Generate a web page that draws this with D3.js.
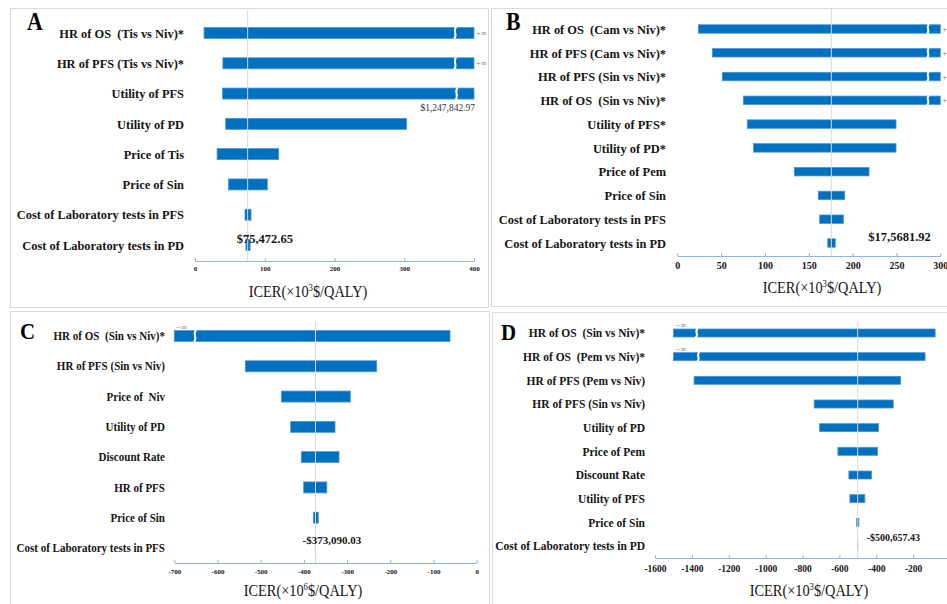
<!DOCTYPE html>
<html>
<head>
<meta charset="utf-8">
<script src="https://cdnjs.cloudflare.com/ajax/libs/d3/7.8.5/d3.min.js"></script>
<style>
    body { margin: 0; background: #fff; }
    svg { display: block; font-family: "Liberation Serif", "Times New Roman", serif; }
</style>
</head>
<body>
<div id="main"></div>
<script>
var ctx = {
    w: 947,
    h: 604,
    labelSx: 0.92, // the source text is a bit narrow
    titleSx: 0.87,
};

// A: Tis vs Niv
var labelsA = ["HR of OS  (Tis vs Niv)*", "HR of PFS (Tis vs Niv)*", "Utility of PFS", "Utility of PD",
    "Price of Tis", "Price of Sin", "Cost of Laboratory tests in PFS", "Cost of Laboratory tests in PD"];
var lowA = [13, 40, 39.6, 44, 31.7, 48, 71.7, 73];
var highA = [400, 400, 400, 303.5, 120, 103.7, 80.3, 79];
var breakA = [373, 373, 375, null, null, null, null, null];
var infA = ["+∞", "+∞", null, null, null, null, null, null];
var baseA = 75.47265;
var ticksA = [0, 100, 200, 300, 400];

// B: Cam / Sin vs Niv
var labelsB = ["HR of OS  (Cam vs Niv)*", "HR of PFS (Cam vs Niv)*", "HR of PFS (Sin vs Niv)*", "HR of OS  (Sin vs Niv)*",
    "Utility of PFS*", "Utility of PD*", "Price of Pem", "Price of Sin",
    "Cost of Laboratory tests in PFS", "Cost of Laboratory tests in PD"];
var lowB = [24, 40, 51.3, 75.3, 79.8, 87, 133.5, 160.8, 162.4, 171.6];
var highB = [300, 300, 300, 300, 249.5, 249.5, 218.7, 191, 189.4, 180.2];
var breakB = [286, 286, 286, 286, null, null, null, null, null, null];
var infB = ["+∞", "+∞", "+∞", "+∞", null, null, null, null, null, null];
var baseB = 175.68192;
var ticksB = [0, 50, 100, 150, 200, 250, 300];

// C: Sin vs Niv (x10^6)
var labelsC = ["HR of OS  (Sin vs Niv)*", "HR of PFS (Sin vs Niv)", "Price of  Niv", "Utility of PD",
    "Discount Rate", "HR of PFS", "Price of Sin", "Cost of Laboratory tests in PFS"];
var lowC = [-700, -535.6, -452.3, -430.6, -406, -400.5, -378.2, -373.6];
var highC = [-61.8, -231.5, -292.6, -328, -318.7, -347, -366.7, -372.8];
var breakC = [-652, null, null, null, null, null, null, null];
var infC = ["−∞", null, null, null, null, null, null, null];
var baseC = -373.09003;
var ticksC = [-700, -600, -500, -400, -300, -200, -100, 0];

// D: Sin / Pem vs Niv
var labelsD = ["HR of OS  (Sin vs Niv)*", "HR of OS  (Pem vs Niv)*", "HR of PFS (Pem vs Niv)", "HR of PFS (Sin vs Niv)",
    "Utility of PD", "Price of Pem", "Discount Rate", "Utility of PFS", "Price of Sin", "Cost of Laboratory tests in PD"];
var lowD = [-1500, -1500, -1388, -736.6, -707, -608, -548.5, -543, -506.8, -500.9];
var highD = [-80.6, -135, -268, -308, -387.5, -393, -425.6, -461.8, -494, -500.4];
var breakD = [-1374, -1365, null, null, null, null, null, null, null, null];
var infD = ["−∞", "−∞", null, null, null, null, null, null, null, null];
var baseD = -500.65743;
var ticksD = [-1600, -1400, -1200, -1000, -800, -600, -400, -200];

var panels = [
    { name: "A", box: [10, 8, 478, 299], letter: [27, 30, 25],
      labels: labelsA, low: lowA, high: highA, brk: breakA, inf: infA,
      base: baseA, baseText: "$75,472.65", baseDx: -11, baseY: 243, baseFs: 12.5,
      note: "$1,247,842.97", noteRow: 2,
      ticks: ticksA, domain: [0, 400], xr: [195, 474], yr: [33, 245], barH: 11,
      axisY: 261, lineTop: 10, labelX: 184, labelFs: 13.5, tickFs: 7, tickPad: 5,
      title: [308, 297], exp: "3" },
    { name: "B", box: [491, 8, 470, 298], letter: [506, 30, 25],
      labels: labelsB, low: lowB, high: highB, brk: breakB, inf: infB,
      base: baseB, baseText: "$17,5681.92", baseDx: 37, baseY: 241, baseFs: 12.5,
      ticks: ticksB, domain: [0, 300], xr: [677.3, 940.3], yr: [29, 243], barH: 8.5,
      axisY: 256, lineTop: 8, labelX: 666, labelFs: 13.5, tickFs: 10, tickPad: 6,
      title: [822, 293], exp: "3" },
    { name: "C", box: [10, 311, 479, 300], letter: [20, 339, 24],
      labels: labelsC, low: lowC, high: highC, brk: breakC, inf: infC,
      base: baseC, baseText: "-$373,090.03", baseDx: -13, baseY: 544, baseFs: 11,
      ticks: ticksC, domain: [-700, 0], xr: [174.3, 476.7], yr: [336, 548], barH: 11,
      axisY: 563, lineTop: 322, labelX: 165, labelFs: 12, tickFs: 7, tickPad: 6,
      title: [303, 596], exp: "6" },
    { name: "D", box: [492, 312, 470, 300], letter: [501, 340, 24],
      labels: labelsD, low: lowD, high: highD, brk: breakD, inf: infD,
      base: baseD, baseText: "-$500,657.43", baseDx: 9, baseY: 541, baseFs: 10,
      ticks: ticksD, domain: [-1600, 0], xr: [655, 950], yr: [333, 546], barH: 8,
      axisY: 558, lineTop: 322, labelX: 645, labelFs: 12.5, tickFs: 9.5, tickPad: 7,
      title: [809, 596], exp: "3" },
];

var squeeze = function (sel, x, y, sx) {
    return sel.attr("transform", `translate(${x},${y}) scale(${sx},1)`);
};

var drawPanel = function (svg, p) {
    var g = svg.append("g").attr("class", "panel-" + p.name);
    var n = p.labels.length;
    var rows = d3.range(n);

    g.append("rect")
        .attr("x", p.box[0] + 0.5)
        .attr("y", p.box[1] + 0.5)
        .attr("width", p.box[2])
        .attr("height", p.box[3])
        .attr("fill", "none")
        .attr("stroke", "#dadada");

    var x = d3.scaleLinear().domain(p.domain).range(p.xr);
    var y = d3.scalePoint().domain(rows).range(p.yr);

    // row labels (keep the double spaces)
    g.selectAll(".lab")
        .data(rows)
        .enter()
        .append("text")
        .attr("class", "lab")
        .each(function (i) { squeeze(d3.select(this), p.labelX, y(i), ctx.labelSx); })
        .attr("dy", "0.35em")
        .attr("text-anchor", "end")
        .attr("font-size", p.labelFs)
        .attr("font-weight", "bold")
        .attr("fill", "#151515")
        .style("white-space", "pre")
        .text((i) => p.labels[i]);

    // bars
    g.selectAll(".bar")
        .data(rows)
        .enter()
        .append("rect")
        .attr("class", "bar")
        .attr("x", (i) => x(Math.min(p.low[i], p.high[i])))
        .attr("y", (i) => y(i) - p.barH / 2)
        .attr("width", (i) => Math.abs(x(p.high[i]) - x(p.low[i])))
        .attr("height", p.barH)
        .attr("fill", "#0070c0")
        .attr("stroke", "#4f94d4")
        .attr("stroke-width", 0.8);

    // axis breaks
    var h = p.barH;
    g.selectAll(".brk")
        .data(rows.filter((i) => p.brk[i] != null))
        .enter()
        .append("path")
        .attr("class", "brk")
        .attr("d", (i) => {
            var bx = x(p.brk[i]), t = y(i) - h / 2;
            return `M${bx + 1},${t - 0.5} C${bx - 3},${t + h * 0.35} ${bx + 3},${t + h * 0.65} ${bx - 1},${t + h + 0.5}`;
        })
        .attr("fill", "none")
        .attr("stroke", "#fff")
        .attr("stroke-width", 2);

    // infinity marks
    g.selectAll(".inf")
        .data(rows.filter((i) => p.inf[i] != null))
        .enter()
        .append("text")
        .attr("class", "inf")
        .attr("x", (i) => p.inf[i][0] == "+" ? x(p.high[i]) + 2 : x(p.low[i]) + 2)
        .attr("y", (i) => p.inf[i][0] == "+" ? y(i) + 3 : y(i) - h / 2 - 1)
        .attr("font-size", 8.5)
        .attr("fill", "#808080")
        .text((i) => p.inf[i]);

    if (p.note) {
        g.append("text")
            .attr("x", x(p.high[p.noteRow]) + 1)
            .attr("y", y(p.noteRow) + h / 2 + 12)
            .attr("text-anchor", "end")
            .attr("font-size", 9.5)
            .attr("fill", "#333")
            .text(p.note);
    }

    // base case line
    g.append("line")
        .attr("x1", x(p.base))
        .attr("x2", x(p.base))
        .attr("y1", p.lineTop)
        .attr("y2", p.axisY)
        .attr("stroke", "#d9d9d9")
        .attr("stroke-width", 1);

    g.append("text")
        .attr("x", x(p.base) + p.baseDx)
        .attr("y", p.baseY)
        .attr("font-size", p.baseFs)
        .attr("font-weight", "bold")
        .attr("fill", "#151515")
        .text(p.baseText);

    // x axis
    var axis = d3.axisBottom(x)
        .tickValues(p.ticks)
        .tickSizeInner(-3)
        .tickSizeOuter(0)
        .tickPadding(p.tickPad)
        .tickFormat((d) => String(d));

    var ax = g.append("g")
        .attr("transform", `translate(0,${p.axisY})`)
        .call(axis);
    ax.select(".domain").attr("stroke", "#8eb4e3");
    ax.selectAll(".tick line").attr("stroke", "#8eb4e3");
    ax.selectAll(".tick text")
        .attr("font-family", "Liberation Serif, serif")
        .attr("font-size", p.tickFs)
        .attr("font-weight", "bold")
        .attr("fill", "#151515");

    var title = g.append("text")
        .call((s) => squeeze(s, p.title[0], p.title[1], ctx.titleSx))
        .attr("text-anchor", "middle")
        .attr("font-size", 16.5)
        .attr("fill", "#151515");
    title.append("tspan").text("ICER(×10");
    title.append("tspan").attr("font-size", 10).attr("dy", -6).text(p.exp);
    title.append("tspan").attr("dy", 6).text("$/QALY)");

    // panel letter
    g.append("text")
        .call((s) => squeeze(s, p.letter[0], p.letter[1], ctx.titleSx))
        .attr("font-size", p.letter[2])
        .attr("font-weight", "bold")
        .attr("fill", "#000")
        .text(p.name);
};

var createViz = function () {
    var svgEl = d3.select("#main").append("svg")
        .attr("width", ctx.w)
        .attr("height", ctx.h);
    panels.forEach((p) => drawPanel(svgEl, p));
};

createViz();
</script>
</body>
</html>
